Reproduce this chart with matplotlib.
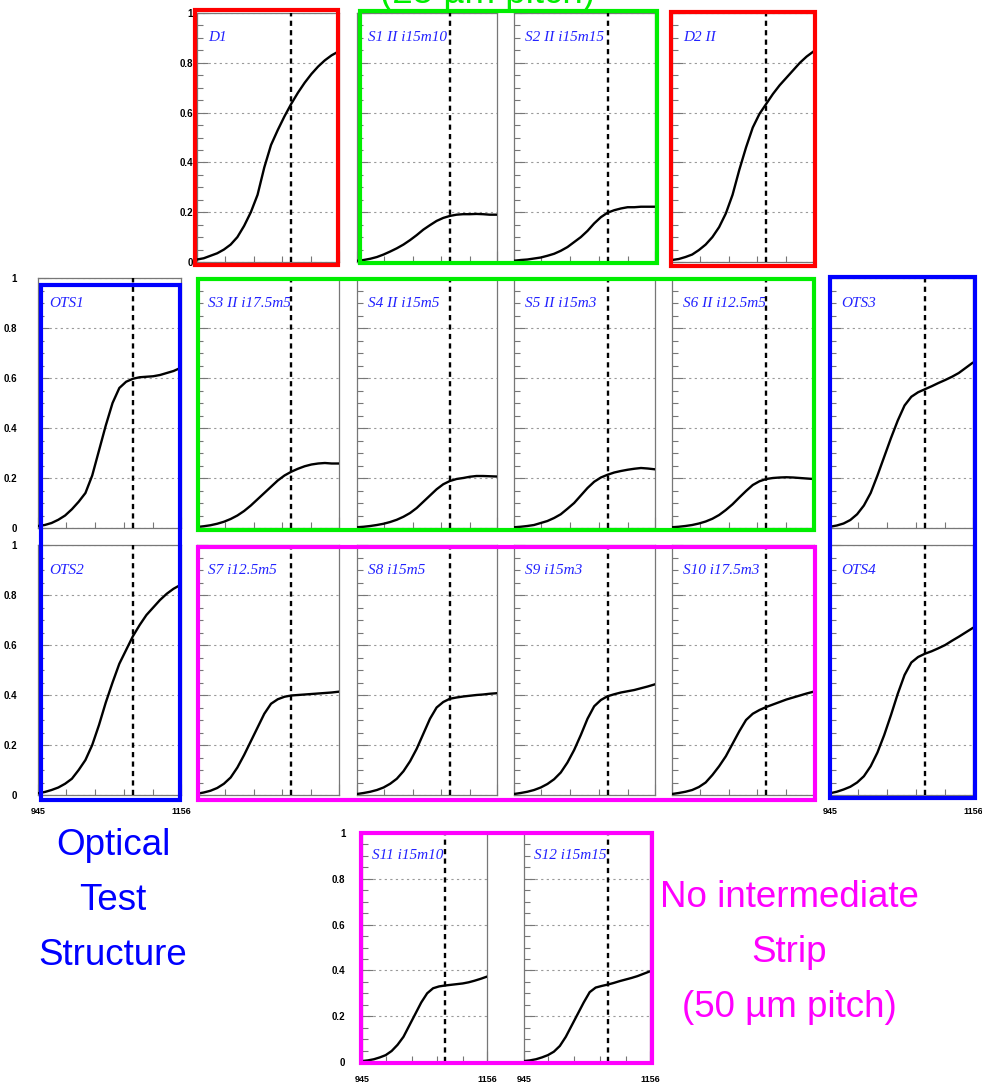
import matplotlib
matplotlib.use('Agg')
import matplotlib.pyplot as plt
from matplotlib.patches import Rectangle
from matplotlib.ticker import MultipleLocator

W, H = 982, 1085

# x axis: scan position, same for every panel
energy = [945, 955, 965, 975, 985, 995, 1005, 1015, 1025, 1035, 1045,
          1055, 1065, 1075, 1085, 1095, 1105, 1115, 1125, 1135, 1145, 1155]
x_range = [945, 1156]
x_minor = [986, 1029, 1072, 1115]
marker_x = 1085

# efficiency curves
d1 = [0.01, 0.015, 0.025, 0.035, 0.05, 0.07, 0.10, 0.145, 0.20, 0.27, 0.38,
      0.47, 0.53, 0.585, 0.635, 0.68, 0.72, 0.755, 0.785, 0.81, 0.83, 0.845]
s1 = [0.005, 0.008, 0.013, 0.02, 0.03, 0.042, 0.055, 0.07, 0.088, 0.108, 0.13,
      0.148, 0.165, 0.177, 0.185, 0.19, 0.192, 0.192, 0.193, 0.192, 0.19, 0.19]
s2 = [0.005, 0.008, 0.01, 0.014, 0.018, 0.025, 0.033, 0.045, 0.06, 0.08, 0.1,
      0.125, 0.155, 0.18, 0.198, 0.208, 0.215, 0.22, 0.22, 0.222, 0.222, 0.222]
d2 = [0.008, 0.012, 0.02, 0.03, 0.048, 0.07, 0.1, 0.14, 0.195, 0.27, 0.37,
      0.46, 0.54, 0.595, 0.635, 0.675, 0.71, 0.74, 0.77, 0.8, 0.825, 0.845]
ots1 = [0.008, 0.012, 0.02, 0.033, 0.05, 0.075, 0.105, 0.14, 0.21, 0.31, 0.41,
        0.5, 0.56, 0.585, 0.597, 0.603, 0.605, 0.607, 0.612, 0.62, 0.628, 0.64]
s3 = [0.004, 0.007, 0.011, 0.017, 0.025, 0.036, 0.05, 0.068, 0.09, 0.115, 0.14,
      0.165, 0.19, 0.21, 0.225, 0.237, 0.247, 0.254, 0.258, 0.26, 0.258, 0.258]
s4 = [0.003, 0.005, 0.008, 0.012, 0.017, 0.024, 0.033, 0.045, 0.06, 0.08, 0.105,
      0.13, 0.155, 0.175, 0.188, 0.196, 0.2, 0.205, 0.208, 0.208, 0.207, 0.206]
s5 = [0.003, 0.005, 0.008, 0.012, 0.02, 0.028, 0.04, 0.055, 0.077, 0.1, 0.13,
      0.16, 0.185, 0.202, 0.213, 0.222, 0.228, 0.233, 0.237, 0.24, 0.238, 0.235]
s6 = [0.003, 0.005, 0.008, 0.012, 0.018, 0.026, 0.037, 0.052, 0.072, 0.095, 0.122,
      0.148, 0.172, 0.187, 0.196, 0.2, 0.202, 0.203, 0.202, 0.2, 0.198, 0.196]
ots3 = [0.005, 0.01, 0.018, 0.032, 0.055, 0.09, 0.14, 0.21, 0.285, 0.36, 0.43,
        0.49, 0.525, 0.543, 0.555, 0.567, 0.58, 0.592, 0.605, 0.62, 0.64, 0.66]
ots2 = [0.007, 0.012, 0.02, 0.03, 0.045, 0.065, 0.1, 0.14, 0.2, 0.28, 0.37,
        0.45, 0.525, 0.58, 0.635, 0.68, 0.72, 0.75, 0.78, 0.805, 0.825, 0.84]
s7 = [0.005, 0.01, 0.017, 0.028, 0.045, 0.07, 0.11, 0.16, 0.215, 0.27, 0.325,
      0.365, 0.383, 0.393, 0.398, 0.4, 0.402, 0.404, 0.406, 0.408, 0.41, 0.413]
s8 = [0.004, 0.008, 0.013, 0.02, 0.03, 0.045, 0.065, 0.095, 0.135, 0.185, 0.245,
      0.305, 0.35, 0.372, 0.385, 0.39, 0.394, 0.397, 0.4, 0.402, 0.405, 0.407]
s9 = [0.004, 0.008, 0.013, 0.02, 0.03, 0.044, 0.063, 0.09, 0.13, 0.18, 0.24,
      0.305, 0.355, 0.38, 0.395, 0.403, 0.41, 0.415, 0.42, 0.427, 0.434, 0.442]
s10 = [0.004, 0.008, 0.013, 0.02, 0.032, 0.05, 0.08, 0.115, 0.155, 0.205, 0.255,
       0.3, 0.325, 0.34, 0.352, 0.362, 0.372, 0.382, 0.39, 0.398, 0.406, 0.413]
ots4 = [0.007, 0.013, 0.022, 0.033, 0.05, 0.075, 0.115, 0.17, 0.24, 0.32, 0.405,
        0.48, 0.53, 0.552, 0.565, 0.575, 0.587, 0.6, 0.617, 0.633, 0.65, 0.667]
s11 = [0.004, 0.007, 0.012, 0.02, 0.03, 0.048, 0.075, 0.11, 0.16, 0.21, 0.26,
       0.3, 0.322, 0.33, 0.334, 0.337, 0.34, 0.343, 0.348, 0.355, 0.363, 0.372]
s12 = [0.004, 0.007, 0.012, 0.02, 0.03, 0.045, 0.07, 0.11, 0.16, 0.21, 0.26,
       0.305, 0.325, 0.332, 0.338, 0.345, 0.353, 0.36, 0.367, 0.375, 0.385, 0.395]

# panel placement in pixels: x0, x1 and y0, y1
cols = [(38, 181), (197, 339), (357, 497), (514, 655), (672, 814), (830, 973)]
rows = [(13, 262), (278, 528), (545, 795), (833, 1062)]

# label, data, x-span, row, show y labels, show x labels, y label pad (pt)
panels = [
    ('D1', d1, cols[1], 0, True, False, 3),
    ('S1 II i15m10', s1, cols[2], 0, False, False, 3),
    ('S2 II i15m15', s2, cols[3], 0, False, False, 3),
    ('D2 II', d2, cols[4], 0, False, False, 3),
    ('OTS1', ots1, cols[0], 1, True, False, 15),
    ('S3 II i17.5m5', s3, cols[1], 1, False, False, 3),
    ('S4 II i15m5', s4, cols[2], 1, False, False, 3),
    ('S5 II i15m3', s5, cols[3], 1, False, False, 3),
    ('S6 II i12.5m5', s6, cols[4], 1, False, False, 3),
    ('OTS3', ots3, cols[5], 1, False, False, 3),
    ('OTS2', ots2, cols[0], 2, True, True, 15),
    ('S7 i12.5m5', s7, cols[1], 2, False, False, 3),
    ('S8 i15m5', s8, cols[2], 2, False, False, 3),
    ('S9 i15m3', s9, cols[3], 2, False, False, 3),
    ('S10 i17.5m3', s10, cols[4], 2, False, False, 3),
    ('OTS4', ots4, cols[5], 2, False, True, 3),
    ('S11 i15m10', s11, (362, 487), 3, True, True, 12),
    ('S12 i15m15', s12, (524, 650), 3, False, True, 3),
]


def frac(x0, y0, x1, y1):
    return [x0 / W, 1 - y1 / H, (x1 - x0) / W, (y1 - y0) / H]


fig = plt.figure(figsize=(W / 100, H / 100), dpi=100)

for label, vals, (x0, x1), r, ylab, xlab, pad in panels:
    y0, y1 = rows[r]
    ax = fig.add_axes(frac(x0, y0, x1, y1))
    ax.plot(energy, vals, color='black', lw=1.7, zorder=3)
    ax.axvline(marker_x, color='black', ls=(0, (2.2, 1.8)), lw=1.7, zorder=4)
    ax.set_xlim(x_range)
    ax.set_ylim(0, 1)
    ax.set_xticks(x_range)
    ax.set_xticks(x_minor, minor=True)
    ax.set_yticks([0, 0.2, 0.4, 0.6, 0.8, 1])
    ax.set_yticklabels(['0', '0.2', '0.4', '0.6', '0.8', '1'])
    ax.yaxis.set_minor_locator(MultipleLocator(0.05))
    ax.grid(axis='y', which='major', color='#9a9a9a', ls=(0, (2, 3)), lw=0.8)
    ax.tick_params(which='both', direction='in', color='#777777', width=0.8)
    ax.tick_params(which='major', length=8)
    ax.tick_params(which='minor', length=4)
    ax.tick_params(axis='y', labelsize=7, pad=pad, labelleft=ylab)
    ax.tick_params(axis='x', labelsize=6.5, pad=9, labelbottom=xlab)
    for t in ax.get_yticklabels() + ax.get_xticklabels():
        t.set_fontweight('bold')
        t.set_family('Liberation Sans')
    for sp in ax.spines.values():
        sp.set_color('#777777')
        sp.set_linewidth(0.9)
    ax.text(0.08, 0.9, label, transform=ax.transAxes, color='#2222ff',
            fontsize=11, style='italic', family='Liberation Serif',
            va='center', ha='left', zorder=2)

# coloured group boxes
boxes = [
    ((195, 10, 338, 265), 'red'),
    ((360, 11, 657, 263), '#00ee00'),
    ((671, 12, 815, 266), 'red'),
    ((41, 285, 180, 800), 'blue'),
    ((198, 279, 814, 530), '#00ee00'),
    ((830, 277, 975, 798), 'blue'),
    ((198, 547, 815, 800), 'magenta'),
    ((361, 833, 652, 1063), 'magenta'),
]
for (x0, y0, x1, y1), c in boxes:
    l, b, w, h = frac(x0, y0, x1, y1)
    fig.add_artist(Rectangle((l, b), w, h, transform=fig.transFigure,
                             fill=False, edgecolor=c, lw=3, zorder=10))


def px_text(x, y, s, c):
    fig.text(x / W, 1 - y / H, s, color=c, fontsize=26.5,
             family='Liberation Sans', ha='center', va='baseline')


px_text(487, 3, '(25 µm pitch)', '#00ee00')
for y, s in zip([855, 910, 965], ['Optical', 'Test', 'Structure']):
    px_text(113, y, s, 'blue')
for y, s in zip([907, 962, 1017], ['No intermediate', 'Strip', '(50 µm pitch)']):
    px_text(789, y, s, 'magenta')

fig.savefig('out.png', dpi=100)
